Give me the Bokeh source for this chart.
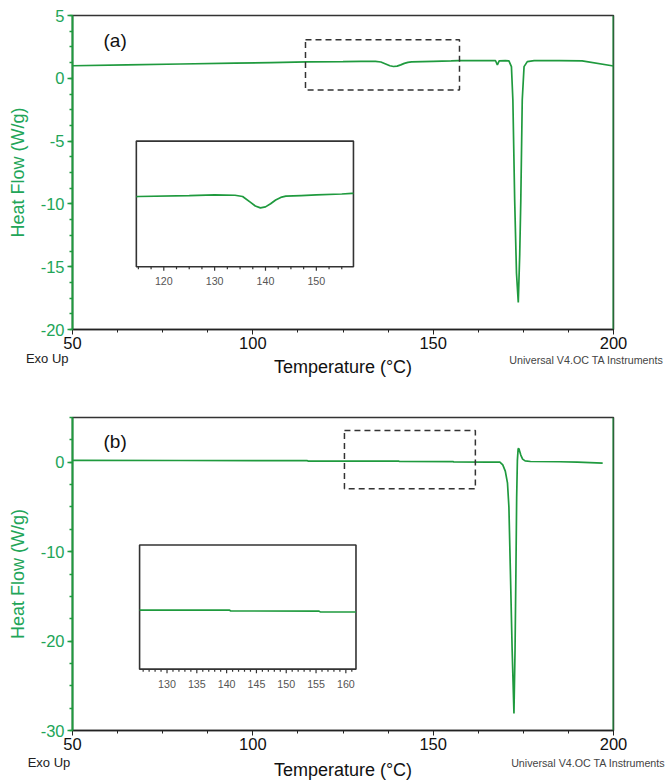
import numpy as np
from bokeh.plotting import figure
from bokeh.layouts import column
from bokeh.models import (Range1d, SingleIntervalTicker, FixedTicker, Label, Span,
                          CustomJSTickFormatter, LinearAxis)
from bokeh.core.properties import value
from bokeh.embed import file_html
from bokeh.resources import INLINE

# ---------------- data ----------------
# Panel (a)
temp_a = [50, 65, 80, 95, 105, 115, 125, 130, 134, 135.5, 137, 138, 139, 140, 141,
          142, 143, 144, 147, 150, 155, 157, 160, 165, 167.3, 167.8, 168.3, 170, 171,
          171.7, 172.1, 172.6, 173.1, 173.6, 174.0, 174.3, 174.7, 175.2, 176.1, 178,
          185, 191.3, 200]
heat_a = [1.00, 1.07, 1.14, 1.21, 1.25, 1.30, 1.33, 1.35, 1.34, 1.30, 1.12, 1.00, 0.94,
          0.97, 1.07, 1.19, 1.27, 1.31, 1.33, 1.35, 1.38, 1.40, 1.40, 1.41, 1.40, 1.06,
          1.39, 1.40, 1.38, 0.93, -1.73, -9.7, -15.5, -17.85, -14.0, -9.7, -1.73, 0.93,
          1.33, 1.40, 1.41, 1.39, 0.98]
zoom_a_x = [114.6, 157.3]
zoom_a_y = [-0.93, 3.06]
inset_a_ticks = [120, 130, 140, 150]
inset_a_labels = ["120", "130", "140", "150"]

# Panel (b)
temp_b = [50, 80, 115, 115.3, 140.5, 140.7, 155.5, 155.7, 165, 168.5, 169.3, 170.0,
          170.6, 171.0, 171.4, 171.9, 172.4, 172.7, 172.95, 173.15, 173.35, 173.55,
          173.7, 173.9, 174.3, 174.8, 175.5, 177, 185, 190, 197]
heat_b = [0.20, 0.19, 0.18, 0.13, 0.12, 0.08, 0.07, 0.03, 0.02, 0.0, -0.3, -1.0, -2.3,
          -5.0, -12.0, -21.0, -28.1, -21.0, -12.0, -4.0, 0.2, 1.45, 1.57, 1.35, 0.8,
          0.35, 0.15, 0.08, 0.05, 0.02, -0.1]
zoom_b_x = [125.4, 161.7]
zoom_b_y = [-2.98, 3.55]
inset_b_ticks = [130, 135, 140, 145, 150, 155, 160]
inset_b_labels = ["130", "135", "140", "145", "150", "155", "160"]

FOOT_LEFT = "Exo Up"
FOOT_RIGHT = "Universal V4.OC TA Instruments"

# ---------------- style ----------------
FONT = "Liberation Sans"
CURVE = "#1f9a3e"
AXGREEN = "#22a558"
DARK = "#333333"
NBSP = "\u00a0"


def footer_axis(p, pos, text, size, color, standoff):
    ax = LinearAxis(ticker=FixedTicker(ticks=[pos], minor_ticks=[]),
                    major_label_overrides={pos: text})
    ax.axis_line_color = None
    ax.major_tick_line_color = None
    ax.minor_tick_line_color = None
    ax.major_tick_out = 0
    ax.major_tick_in = 0
    ax.minor_tick_out = 0
    ax.minor_tick_in = 0
    ax.major_label_standoff = standoff
    ax.major_label_text_font = FONT
    ax.major_label_text_font_size = size
    ax.major_label_text_color = color
    p.add_layout(ax, "below")


def make_panel(tag, temps, heats, y_lo, y_hi, y_step, zx, zy, inset_tx, inset_ty,
               ticks, labels, minor_step, L):
    height = L["height"]
    p = figure(width=666, height=height, x_range=Range1d(50, 200),
               y_range=Range1d(y_lo, y_hi), output_backend="svg",
               toolbar_location=None, min_border_left=L["left"],
               min_border_right=L["right"], min_border_top=L["top"],
               min_border_bottom=L["bottom"], background_fill_color="white",
               border_fill_color="white")
    p.xgrid.visible = False
    p.ygrid.visible = False
    p.outline_line_color = DARK
    p.outline_line_width = 1.5

    fmt = CustomJSTickFormatter(code="return tick.toFixed(0)")
    xa = p.xaxis[0]
    xa.ticker = SingleIntervalTicker(interval=50, num_minor_ticks=4)
    xa.formatter = fmt
    xa.axis_label = "Temperature (°C)"
    xa.axis_label_text_font = FONT
    xa.axis_label_text_font_size = "18px"
    xa.axis_label_text_font_style = "normal"
    xa.axis_label_text_color = "#111111"
    xa.axis_label_standoff = L["xlab_standoff"]
    xa.major_label_text_font = FONT
    xa.major_label_text_font_size = "16.5px"
    xa.major_label_text_color = "#111111"
    xa.major_label_standoff = L["xtick_standoff"]
    xa.axis_line_color = "#222222"
    xa.axis_line_width = 1.5
    xa.major_tick_line_color = "#222222"
    xa.minor_tick_line_color = "#222222"
    xa.major_tick_in = 0
    xa.major_tick_out = 5
    xa.minor_tick_in = 0
    xa.minor_tick_out = 3

    ya = p.yaxis[0]
    ya.ticker = SingleIntervalTicker(interval=y_step, num_minor_ticks=4)
    ya.formatter = fmt
    ya.axis_label = "Heat Flow (W/g)"
    ya.axis_label_text_font = FONT
    ya.axis_label_text_font_size = "18px"
    ya.axis_label_text_font_style = "normal"
    ya.axis_label_text_color = AXGREEN
    ya.axis_label_standoff = 10
    ya.major_label_text_font = FONT
    ya.major_label_text_font_size = "16.5px"
    ya.major_label_text_color = AXGREEN
    ya.major_label_standoff = 3
    ya.axis_line_color = CURVE
    ya.axis_line_width = 2
    ya.major_tick_line_color = CURVE
    ya.minor_tick_line_color = CURVE
    ya.major_tick_line_width = 1.5
    ya.minor_tick_line_width = 1.5
    ya.major_tick_in = 0
    ya.major_tick_out = 5
    ya.minor_tick_in = 0
    ya.minor_tick_out = 3

    # footer texts as label-only axes below the main x axis
    footer_axis(p, 50, FOOT_LEFT + NBSP * L["exo_pad"], "13px", "#222222",
                L["exo_standoff"])
    footer_axis(p, L["univ_x"], FOOT_RIGHT, "10.7px", "#444444", L["univ_standoff"])

    p.add_layout(Span(location=200, dimension="height", line_color=CURVE, line_width=2))

    p.line(temps, heats, line_color=CURVE, line_width=1.7)

    p.quad(left=zx[0], right=zx[1], bottom=zy[0], top=zy[1], fill_alpha=0,
           line_color=DARK, line_width=1.5, line_dash="6 4")

    p.quad(left=inset_tx[0], right=inset_tx[1], bottom=inset_ty[0], top=inset_ty[1],
           fill_color="white", line_color=DARK, line_width=1.6)

    sub = p.subplot(x_source=Range1d(zx[0], zx[1]), y_source=Range1d(zy[0], zy[1]),
                    x_target=Range1d(inset_tx[0], inset_tx[1]),
                    y_target=Range1d(inset_ty[0], inset_ty[1]))

    frame_h = height - L["top"] - L["bottom"]
    px_per_y = frame_h / (y_hi - y_lo)
    inset_h = (inset_ty[1] - inset_ty[0]) * px_per_y
    upp = (zy[1] - zy[0]) / inset_h

    t = np.asarray(temps, dtype=float)
    h = np.asarray(heats, dtype=float)
    m = (t > zx[0]) & (t < zx[1])
    it = np.concatenate([[zx[0]], t[m], [zx[1]]])
    ih = np.concatenate([[np.interp(zx[0], t, h)], h[m], [np.interp(zx[1], t, h)]])
    sub.line(it, ih, line_color=CURVE, line_width=1.7)

    minors = [v for v in np.arange(np.ceil(zx[0] / minor_step) * minor_step, zx[1], minor_step)
              if v not in ticks]
    y0 = zy[0]
    sub.segment(x0=minors, y0=[y0] * len(minors), x1=minors,
                y1=[y0 - 2.5 * upp] * len(minors), line_color=DARK, line_width=1.2)
    sub.segment(x0=ticks, y0=[y0] * len(ticks), x1=ticks,
                y1=[y0 - 4 * upp] * len(ticks), line_color=DARK, line_width=1.2)
    sub.text(x=ticks, y=[y0 - 14.5 * upp] * len(ticks), text=labels,
             text_font=value(FONT), text_font_size="10.7px", text_color="#555555",
             text_align="center", text_baseline="middle")

    p.add_layout(Label(x=50, y=y_hi, x_offset=31, y_offset=-L["tag_dy"],
                       text=tag, text_font=FONT, text_font_size="19px",
                       text_color="#111111", text_baseline="middle", text_align="left"))
    return p


LAYOUT_A = dict(height=380, left=71, right=53, top=15, bottom=51, xtick_standoff=2,
                xlab_standoff=5, exo_pad=14, univ_x=192.5, exo_standoff=-29,
                univ_standoff=-26, tag_dy=25)
LAYOUT_B = dict(height=402, left=72, right=51, top=37, bottom=52, xtick_standoff=2,
                xlab_standoff=7, exo_pad=13, univ_x=193.0, exo_standoff=-28,
                univ_standoff=-26, tag_dy=23.5)

pa = make_panel("(a)", temp_a, heat_a, -20, 5, 5, zoom_a_x, zoom_a_y,
                [67.7, 127.9], [-15.0, -5.0], inset_a_ticks, inset_a_labels, 2.5,
                LAYOUT_A)
pb = make_panel("(b)", temp_b, heat_b, -30, 5, 10, zoom_b_x, zoom_b_y,
                [68.6, 128.6], [-23.14, -9.25], inset_b_ticks, inset_b_labels, 1.0,
                LAYOUT_B)

layout = column(pa, pb, spacing=0)
open("out.html", "w").write(file_html(layout, INLINE))
